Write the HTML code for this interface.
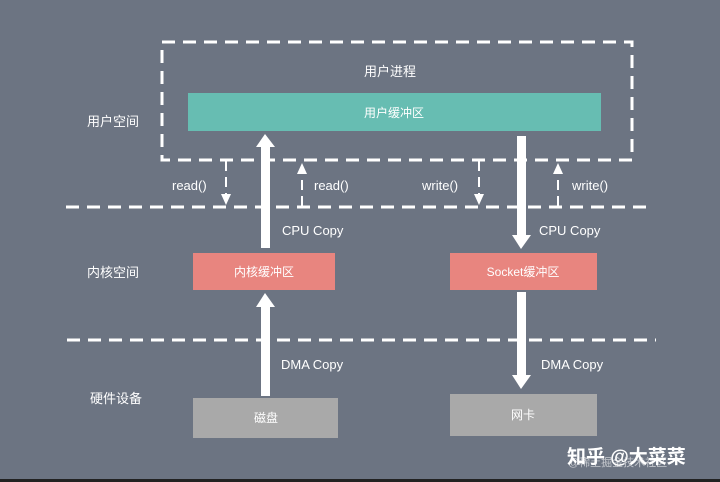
<!DOCTYPE html>
<html><head><meta charset="utf-8"><style>
html,body{margin:0;padding:0;background:#6c7482;}
svg{display:block}
text{font-family:"Liberation Sans","Noto Sans CJK SC",sans-serif;fill:#fff;}
</style></head><body>
<svg width="720" height="482" viewBox="0 0 720 482" xmlns="http://www.w3.org/2000/svg">
<rect width="720" height="482" fill="#6c7482"/>
<rect x="0" y="479" width="720" height="3" fill="#222"/>
<g stroke="#fff" stroke-width="3" fill="none" stroke-dasharray="13,8">
<rect x="162" y="42" width="470" height="118"/>
<line x1="66" y1="207" x2="650" y2="207"/>
<line x1="67" y1="340" x2="656" y2="340"/>
</g>
<rect x="188" y="93" width="413" height="38" fill="#67bdb2"/>
<rect x="193" y="253" width="142" height="37" fill="#e8857f"/>
<rect x="450" y="253" width="147" height="37" fill="#e8857f"/>
<rect x="193" y="398" width="145" height="40" fill="#a9a9a9"/>
<rect x="450" y="394" width="147" height="42" fill="#a9a9a9"/>
<g fill="#fff">
<rect x="261" y="145" width="9" height="103"/><polygon points="256,147 265,134 275,147"/>
<rect x="261" y="305" width="9" height="91"/><polygon points="256,307 265,293 275,307"/>
<rect x="517" y="136" width="9" height="100"/><polygon points="512,235 521,249 531,235"/>
<rect x="517" y="292" width="9" height="84"/><polygon points="512,375 521,389 531,375"/>
</g>
<g stroke="#fff" stroke-width="2" stroke-dasharray="10,6" fill="none">
<line x1="226" y1="161" x2="226" y2="195"/>
<line x1="302" y1="206" x2="302" y2="172"/>
<line x1="479" y1="161" x2="479" y2="195"/>
<line x1="558" y1="206" x2="558" y2="172"/>
</g>
<g fill="#fff">
<polygon points="221,194 226,205 231,194"/>
<polygon points="297,174 302,163 307,174"/>
<polygon points="474,194 479,205 484,194"/>
<polygon points="553,174 558,163 563,174"/>
</g>
<g font-size="13">
<text x="172" y="190">read()</text>
<text x="314" y="190">read()</text>
<text x="422" y="190">write()</text>
<text x="572" y="190">write()</text>
<text x="282" y="235">CPU Copy</text>
<text x="539" y="235">CPU Copy</text>
<text x="281" y="369">DMA Copy</text>
<text x="541" y="369">DMA Copy</text>
<text x="87" y="126">用户空间</text>
<text x="87" y="277">内核空间</text>
<text x="90" y="403">硬件设备</text>
<text x="364" y="76">用户进程</text>
</g>
<g font-size="12" text-anchor="middle">
<text x="394" y="117">用户缓冲区</text>
<text x="264" y="276">内核缓冲区</text>
<text x="523" y="276">Socket缓冲区</text>
<text x="266" y="422">磁盘</text>
<text x="523" y="419">网卡</text>
</g>
<text x="567" y="463" font-size="19" font-weight="bold">知乎 @大菜菜</text>
<text x="568" y="466" font-size="11" fill="#ddd" opacity="0.6">@稀土掘金技术社区</text>
</svg>
</body></html>
